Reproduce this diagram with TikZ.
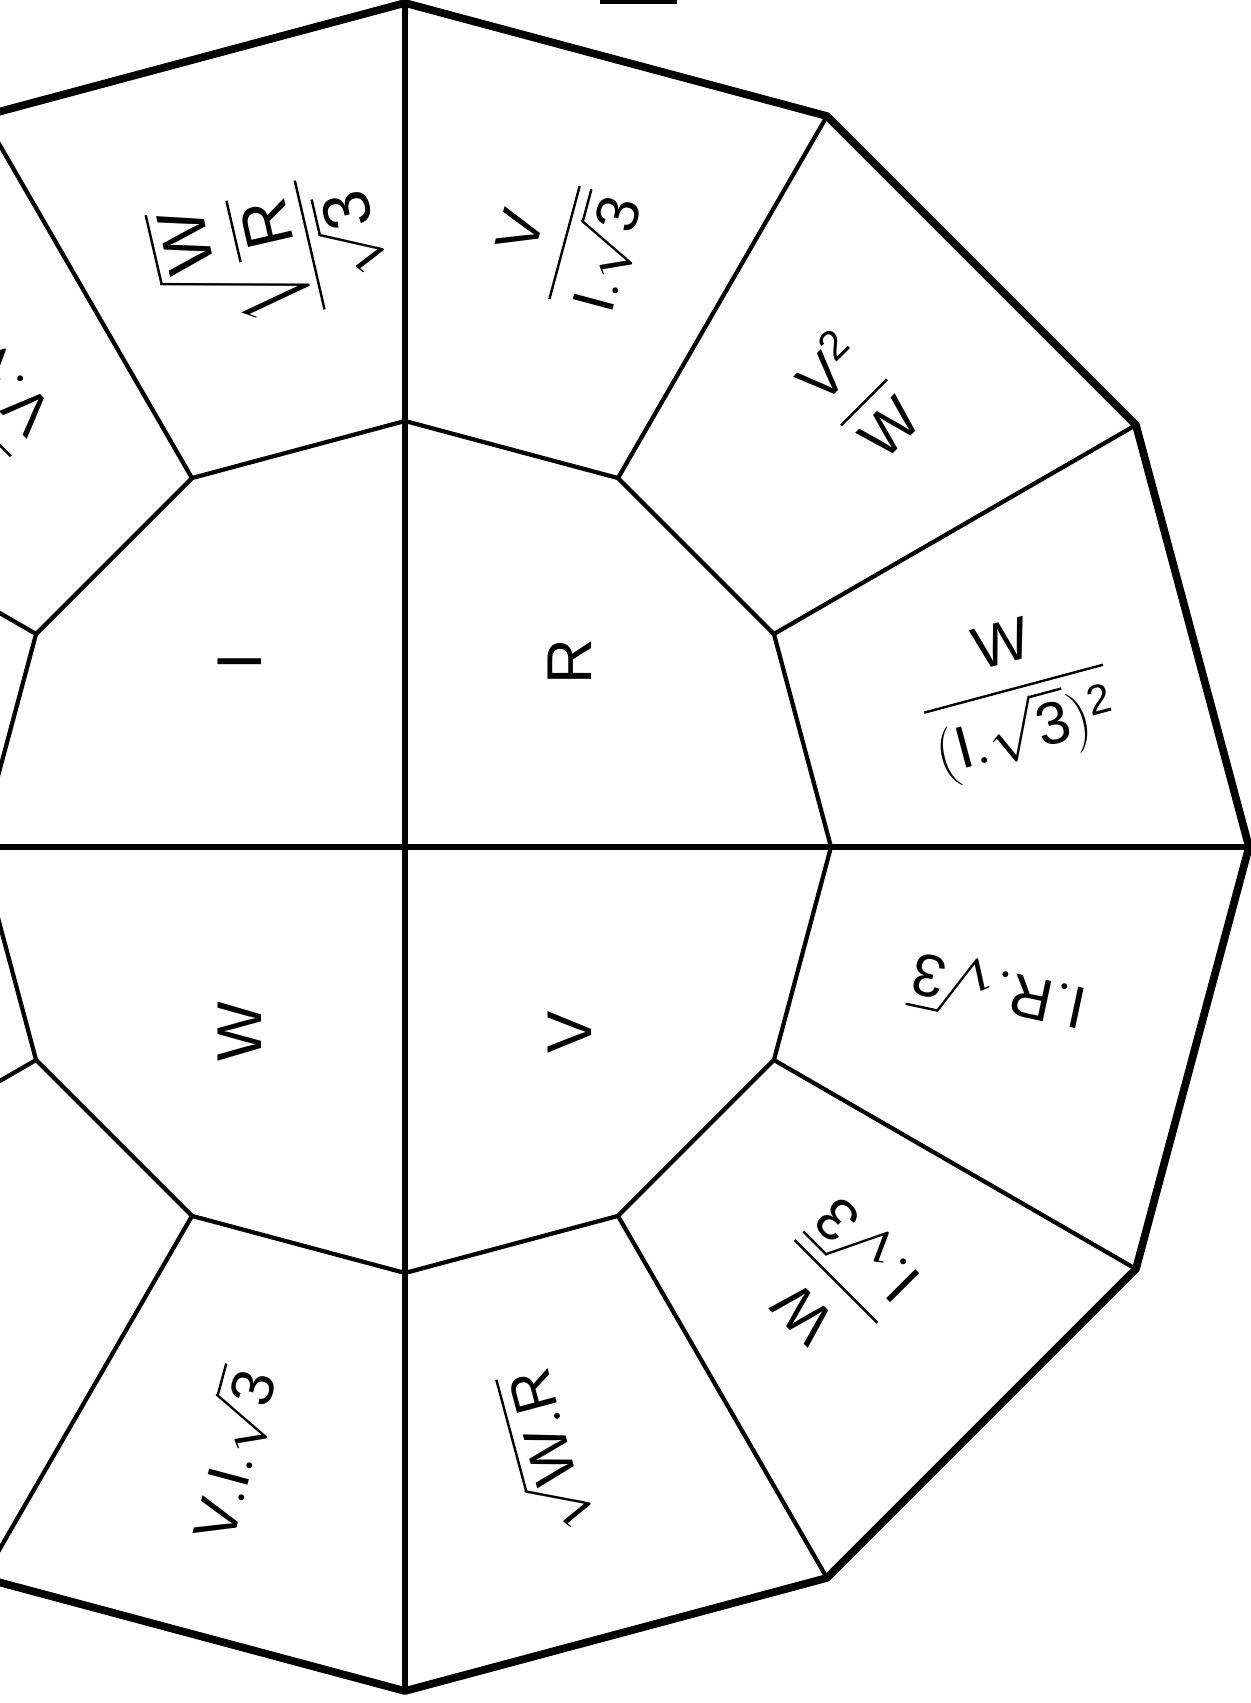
\documentclass[tikz,border=0pt]{standalone}
\usepackage{amsmath}
\usepackage{fontspec}
\setmainfont{Liberation Sans}
\setsansfont{Liberation Sans}
\usepackage{tikz}

\begin{document}
\begin{tikzpicture}[
    rim/.style={line width=2.2pt, line join=round},
    axis/.style={line width=1.6pt},
    spoke/.style={line width=1.2pt, line join=round},
    core/.style={font=\fontsize{18}{20}\selectfont, rotate=90},
    formula/.style={font=\fontsize{17}{20}\selectfont, inner sep=1pt}]

    \useasboundingbox (-4.05,-8.56) rectangle (8.46,8.47);
    \clip (-4.05,-8.56) rectangle (8.46,8.47);

    \foreach \a in {0,30,...,330} {
        \coordinate (out\a) at (\a:8.44);
        \coordinate (in\a) at (\a:4.26);
    }

    \draw[rim] (out0) \foreach \a in {30,60,...,330} { -- (out\a) } -- cycle;
    \draw[spoke] (in0) \foreach \a in {30,60,...,330} { -- (in\a) } -- cycle;
    \foreach \a in {30,60,120,150,210,240,300,330}
        \draw[spoke] (in\a) -- (out\a);
    \draw[axis] (out90) -- (out270);
    \draw[axis] (out180) -- (out0);
    \draw[rim] (1.95,8.47) -- (2.72,8.47);

    \node[core] (curr) at (-1.65,1.85) {I};
    \node[core] (res) at (1.65,1.85) {R};
    \node[core] (watt) at (-1.65,-1.85) {W};
    \node[core] (volt) at (1.65,-1.85) {V};

    \node[formula, rotate=75] (f75) at (75:6.25) {$\mathsf{\dfrac{V}{I.\sqrt{3}}}$};
    \node[formula, rotate=45] (f45) at (45:6.39) {$\mathsf{\dfrac{V^2}{W}}$};
    \node[formula, rotate=15] (f15) at (14:6.29) {$\mathsf{\dfrac{W}{(I.\sqrt{3})^2}}$};
    \node[formula, rotate=168] (f345) at (-14:6.11) {$\mathsf{I.R.\sqrt{3}}$};
    \node[formula, rotate=135] (f315) at (-45:6.12) {$\mathsf{\dfrac{W}{I.\sqrt{3}}}$};
    \node[formula, rotate=105] (f285) at (-77:6.22) {$\mathsf{\sqrt{W.R}}$};
    \node[formula, rotate=75] (f255) at (-106:6.32) {$\mathsf{V.I.\sqrt{3}}$};
    \node[formula, rotate=135] (f135) at (135:6.25) {$\mathsf{\dfrac{W}{V.\sqrt{3}}}$};
    \node[formula, rotate=103, font=\fontsize{19}{22}\selectfont] (f105) at (103:6.08) {$\mathsf{\dfrac{\sqrt{\dfrac{W}{R}}}{\sqrt{3}}}$};

\end{tikzpicture}
\end{document}
